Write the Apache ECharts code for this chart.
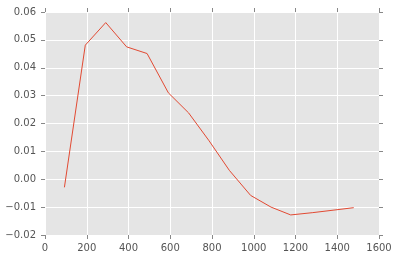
<!DOCTYPE html>
<html>
<head>
<meta charset="utf-8">
<script src="https://cdn.jsdelivr.net/npm/echarts@6/dist/echarts.min.js"></script>
<style>html,body{margin:0;padding:0;background:#fff}#c{width:397px;height:260px}</style>
</head>
<body>
<div id="c"></div>
<script>
const xValues = [93, 193, 291, 391, 489, 591, 688, 786, 883, 985, 1083, 1177, 1280, 1380, 1479];
const yValues = [-0.0029, 0.0481, 0.0562, 0.0475, 0.0451, 0.0310, 0.0238, 0.0138, 0.0032, -0.0058, -0.0100, -0.0128, -0.0120, -0.0111, -0.0102];
const xTicks = [0, 200, 400, 600, 800, 1000, 1200, 1400, 1600];
const yTicks = [-0.02, -0.01, 0.00, 0.01, 0.02, 0.03, 0.04, 0.05, 0.06];

const chart = echarts.init(document.getElementById('c'), null, {renderer: 'canvas'});
const font = 'DejaVu Sans';
const tickStyle = {show: true, inside: false, length: 4, lineStyle: {color: '#888', width: 1}};
const noLine = {show: false, onZero: false};
const fmtY = v => { const s = (Math.round(v * 100) / 100).toFixed(2); return s.replace('-', '\u2212'); };
const data = xValues.map((x, i) => [x, yValues[i]]);

chart.setOption({
  animation: false,
  backgroundColor: '#ffffff',
  grid: {left: 45, top: 12, width: 334, height: 223, show: true, backgroundColor: '#E5E5E5', borderWidth: 0},
  xAxis: [{
    type: 'value', position: 'bottom', min: xTicks[0], max: xTicks[xTicks.length - 1], interval: 200,
    axisLine: noLine, axisTick: tickStyle,
    axisLabel: {color: '#555', fontFamily: font, fontSize: 10, margin: 8, formatter: v => String(v)},
    splitLine: {show: true, lineStyle: {color: '#ffffff', width: 1}}
  }, {
    type: 'value', position: 'top', min: xTicks[0], max: xTicks[xTicks.length - 1], interval: 200,
    axisLine: noLine, axisTick: tickStyle, axisLabel: {show: false}, splitLine: {show: false}
  }],
  yAxis: [{
    type: 'value', position: 'left', min: yTicks[0], max: yTicks[yTicks.length - 1], interval: 0.01,
    axisLine: noLine, axisTick: tickStyle,
    axisLabel: {color: '#555', fontFamily: font, fontSize: 10, margin: 9, formatter: fmtY},
    splitLine: {show: true, lineStyle: {color: '#ffffff', width: 1}}
  }, {
    type: 'value', position: 'right', min: yTicks[0], max: yTicks[yTicks.length - 1], interval: 0.01,
    axisLine: noLine, axisTick: tickStyle, axisLabel: {show: false}, splitLine: {show: false}
  }],
  series: [{
    type: 'line', data: data, xAxisIndex: 0, yAxisIndex: 0,
    showSymbol: false, symbol: 'none',
    lineStyle: {color: '#E24A33', width: 1}
  }]
});
</script>
</body>
</html>
